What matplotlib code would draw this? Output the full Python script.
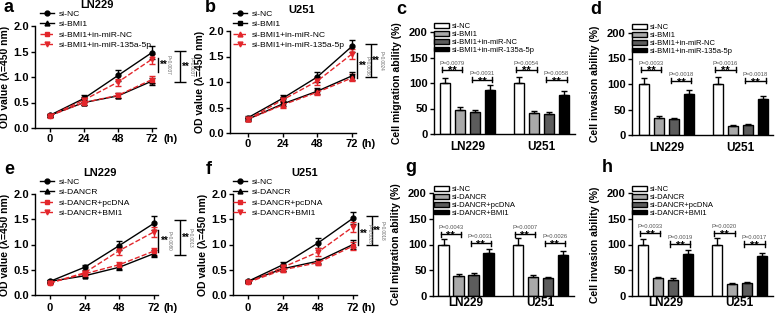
import matplotlib.pyplot as plt

plt.rcParams['font.family'] = ['Liberation Sans', 'DejaVu Sans']
plt.rcParams['axes.linewidth'] = 1.0
plt.rcParams['xtick.major.width'] = 1.0
plt.rcParams['ytick.major.width'] = 1.0

W, H = 784, 314
RED = '#e3262b'

# ---- CCK-8 curves (OD at 450 nm) ----
hours = [0, 24, 48, 72]

a_labels = ['si-NC', 'si-BMI1', 'si-BMI1+in-miR-NC', 'si-BMI1+in-miR-135a-5p']
a_means = [[0.25, 0.58, 1.03, 1.48], [0.25, 0.50, 0.63, 0.92],
           [0.24, 0.50, 0.64, 0.95], [0.24, 0.55, 0.90, 1.35]]
a_errs = [[0.03, 0.07, 0.10, 0.13], [0.03, 0.05, 0.05, 0.07],
          [0.02, 0.05, 0.05, 0.07], [0.02, 0.05, 0.07, 0.10]]
a_p = ['P=0.0037', 'P=0.0037']

b_labels = a_labels
b_means = [[0.30, 0.68, 1.10, 1.70], [0.27, 0.57, 0.82, 1.12],
           [0.27, 0.55, 0.80, 1.08], [0.27, 0.65, 1.02, 1.55]]
b_errs = [[0.04, 0.06, 0.10, 0.12], [0.03, 0.05, 0.06, 0.08],
          [0.03, 0.05, 0.05, 0.07], [0.03, 0.05, 0.07, 0.10]]
b_p = ['P=0.0036', 'P=0.0024']

e_labels = ['si-NC', 'si-DANCR', 'si-DANCR+pcDNA', 'si-DANCR+BMI1']
e_means = [[0.27, 0.55, 0.98, 1.42], [0.27, 0.38, 0.55, 0.82],
           [0.24, 0.42, 0.60, 0.87], [0.24, 0.44, 0.88, 1.25]]
e_errs = [[0.03, 0.05, 0.08, 0.14], [0.02, 0.03, 0.05, 0.07],
          [0.02, 0.03, 0.05, 0.07], [0.02, 0.04, 0.08, 0.10]]
e_p = ['P=0.0080', 'P=0.0013']

f_labels = e_labels
f_means = [[0.27, 0.60, 1.03, 1.52], [0.27, 0.52, 0.67, 1.00],
           [0.25, 0.50, 0.64, 0.97], [0.25, 0.55, 0.85, 1.35]]
f_errs = [[0.03, 0.05, 0.10, 0.12], [0.02, 0.04, 0.05, 0.08],
          [0.02, 0.04, 0.05, 0.07], [0.02, 0.04, 0.08, 0.10]]
f_p = ['P=0.0026', 'P=0.0018']

# ---- transwell bars (%) ----
cells = ['LN229', 'U251']

c_labels = a_labels
c_means = [[100, 48, 43, 86], [100, 42, 40, 77]]
c_errs = [[10, 5, 5, 10], [12, 4, 4, 7]]
c_p = ['P=0.0079', 'P=0.0031', 'P=0.0054', 'P=0.0058']

d_means = [[100, 34, 31, 80], [100, 18, 20, 70]]
d_errs = [[12, 3, 3, 8], [13, 2, 2, 7]]
d_p = ['P=0.0033', 'P=0.0018', 'P=0.0016', 'P=0.0018']

g_labels = e_labels
g_means = [[100, 39, 41, 84], [100, 36, 34, 79]]
g_errs = [[10, 4, 4, 8], [13, 4, 3, 8]]
g_p = ['P=0.0043', 'P=0.0031', 'P=0.0007', 'P=0.0026']

h_means = [[100, 34, 32, 81], [100, 24, 26, 77]]
h_errs = [[10, 3, 2, 8], [13, 2, 2, 7]]
h_p = ['P=0.0033', 'P=0.0019', 'P=0.0020', 'P=0.0017']

bar_colors = ['white', '#a9a9a9', '#5c5c5c', 'black']

fig = plt.figure(figsize=(7.84, 3.14), dpi=100)


def box(l, t, r, b):
    return fig.add_axes([l / W, 1 - b / H, (r - l) / W, (b - t) / H])


def fxy(x, y):
    return (x / W, 1 - y / H)


def style(ax, xpad):
    for s in ['top', 'right']:
        ax.spines[s].set_visible(False)
    ax.tick_params(direction='out', length=3, labelsize=8, pad=1.5)
    ax.tick_params(axis='x', pad=xpad)
    for t in ax.get_xticklabels() + ax.get_yticklabels():
        t.set_fontweight('bold')


def line_panel(box_px, x0, x72, means, errs, labels, markers, title, pvals,
               sig, leg_xy, title_xy, letter, letter_xy, xpad, h_dx):
    l, t, r, b = box_px
    ax = box(l, t, r, b)
    k = (x72 - x0) / 72.0
    colors = ['black', 'black', RED, RED]
    styles = ['-', '-', '--', '--']
    for m, e, lab, mk, c, ls in zip(means, errs, labels, markers, colors, styles):
        ax.errorbar(hours, m, yerr=e, fmt='none', ecolor=c, elinewidth=1,
                    capsize=2, capthick=1, clip_on=False, zorder=3)
        ax.plot(hours, m, ls=ls, color=c, lw=1, marker=mk, ms=3.5,
                label=lab, clip_on=False, zorder=4)
    ax.set_xlim((l - x0) / k, (r - x0) / k)
    ax.set_ylim(0, 2.0)
    ax.set_xticks(hours)
    ax.set_yticks([0, 0.5, 1.0, 1.5, 2.0])
    ax.set_yticklabels(['0.0', '0.5', '1.0', '1.5', '2.0'])
    ax.set_ylabel('OD value (λ=450 nm)', fontsize=7.5, fontweight='bold', labelpad=2)
    style(ax, xpad)
    ax.annotate('(h)', xy=(72, 0), xycoords='data', xytext=(h_dx, -(3 + xpad) * 100 / 72),
                textcoords='offset pixels', fontsize=8, fontweight='bold',
                ha='left', va='top', annotation_clip=False)
    # significance markers
    (xi, lo_i, hi_i), (xo, lo_o, hi_o) = sig
    ax.plot([xi, xi], [lo_i, hi_i], color='black', lw=1, clip_on=False)
    ax.text(xi + 1.5, (lo_i + hi_i) / 2, '**', fontsize=7, fontweight='bold',
            ha='left', va='center', clip_on=False)
    ax.text(xi + 5.5, (lo_i + hi_i) / 2, pvals[0], fontsize=3.3, color='#666666',
            rotation=270, ha='left', va='center', clip_on=False)
    ax.errorbar([xo], [(lo_o + hi_o) / 2], yerr=[(hi_o - lo_o) / 2], fmt='none',
                ecolor='black', elinewidth=1, capsize=4, capthick=1, clip_on=False)
    ax.text(xo + 1.0, (lo_o + hi_o) / 2, '**', fontsize=7, fontweight='bold',
            ha='left', va='center', clip_on=False)
    ax.text(xo + 5.5, (lo_o + hi_o) / 2, pvals[1], fontsize=3.3, color='#666666',
            rotation=270, ha='left', va='center', clip_on=False)
    ax.legend(loc='upper left', bbox_to_anchor=fxy(*leg_xy), bbox_transform=fig.transFigure,
              frameon=False, fontsize=6.1, borderpad=0, borderaxespad=0,
              handlelength=1.7, handletextpad=0.5, labelspacing=0.3)
    fig.text(*fxy(*title_xy), title, fontsize=8, fontweight='bold', ha='center', va='center')
    fig.text(*fxy(*letter_xy), letter, fontsize=13, fontweight='bold', ha='left', va='center')
    return ax


def bar_panel(box_px, x_first, means, errs, labels, pvals, ylabel, sig_y,
              leg_xy, letter, letter_xy, xpad):
    l, t, r, b = box_px
    ax = box(l, t, r, b)
    step = 15.0
    gap = 4.95
    for g, (m, e) in enumerate(zip(means, errs)):
        for j in range(4):
            x = g * gap + j
            ax.bar(x, m[j], width=0.68, color=bar_colors[j], edgecolor='black',
                   linewidth=1, label=labels[j] if g == 0 else None, zorder=2)
            ax.errorbar(x, m[j], yerr=[[0], [e[j]]], fmt='none', ecolor='black',
                        elinewidth=1, capsize=2.5, capthick=1, zorder=3)
        for n, (j0, j1) in enumerate([(0, 1), (2, 3)]):
            ys = sig_y[n]
            xa, xb = g * gap + j0 - 0.2, g * gap + j1 + 0.15
            ax.plot([xa, xb], [ys, ys], color='black', lw=1, zorder=4)
            ax.plot([xa, xa], [ys - 5, ys + 5], color='black', lw=1, zorder=4)
            ax.plot([xb, xb], [ys - 5, ys + 5], color='black', lw=1, zorder=4)
            ax.text((xa + xb) / 2, ys - 3, '**', fontsize=8, fontweight='bold',
                    ha='center', va='center', zorder=5)
            ax.text((xa + xb) / 2, ys + 8, pvals[g * 2 + n], fontsize=4.2,
                    color='#555555', ha='center', va='bottom')
    ax.set_xlim((l - x_first) / step, (r - x_first) / step)
    ax.set_ylim(0, 200)
    ax.set_yticks([0, 50, 100, 150, 200])
    ax.set_xticks([1.5, gap + 1.5])
    ax.set_xticklabels(cells)
    ax.set_ylabel(ylabel, fontsize=7.5, fontweight='bold', labelpad=5)
    style(ax, xpad)
    ax.tick_params(axis='x', length=0, labelsize=8.5)
    ax.legend(loc='upper left', bbox_to_anchor=fxy(*leg_xy), bbox_transform=fig.transFigure,
              frameon=False, fontsize=5.5, borderpad=0, borderaxespad=0,
              handlelength=1.9, handleheight=0.6, handletextpad=0.4, labelspacing=0.1)
    fig.text(*fxy(*letter_xy), letter, fontsize=13, fontweight='bold', ha='left', va='center')
    return ax


line_panel((35, 26, 156, 128), 50, 152, a_means, a_errs, a_labels, ['o', '^', 's', 'v'],
           'LN229', a_p, [(76, 1.10, 1.38), (92, 0.90, 1.51)], (40, 10), (97, 5),
           'a', (4, 8), 1.5, 11)
line_panel((230, 31, 356, 133), 248, 352, b_means, b_errs, b_labels, ['o', 's', '^', 'v'],
           'U251', b_p, [(75.5, 1.07, 1.57), (85, 1.10, 1.74)], (233, 10), (302, 10),
           'b', (205, 8), 1.5, 9)
line_panel((35, 194, 158, 295), 50, 154, e_means, e_errs, e_labels, ['o', '^', 's', 'v'],
           'LN229', e_p, [(75, 0.86, 1.29), (90, 0.79, 1.49)], (40, 178), (100, 173),
           'e', (4, 170), 3, 10)
line_panel((233, 194, 357, 295), 248, 353, f_means, f_errs, f_labels, ['o', '^', 's', 'v'],
           'U251', f_p, [(75.5, 0.99, 1.42), (85, 1.00, 1.56)], (233, 178), (305, 173),
           'f', (206, 170), 3, 9)

bar_panel((434, 32, 575, 134), 445, c_means, c_errs, c_labels, c_p,
          'Cell migration ability (%)', [126, 106], (434, 23), 'c', (396, 10), 5)
bar_panel((632, 33, 773, 135), 644, d_means, d_errs, c_labels, d_p,
          'Cell invasion ability (%)', [128, 106], (632, 24), 'd', (590, 10), 5)
bar_panel((433, 193, 574, 296), 443.5, g_means, g_errs, g_labels, g_p,
          'Cell migration ability (%)', [120, 102], (434, 186), 'g', (405, 168), 1)
bar_panel((632, 193, 773, 296), 643, h_means, h_errs, g_labels, h_p,
          'Cell invasion ability (%)', [122, 101], (632, 186), 'h', (602, 168), 1)

fig.savefig('out.png', dpi=100)
